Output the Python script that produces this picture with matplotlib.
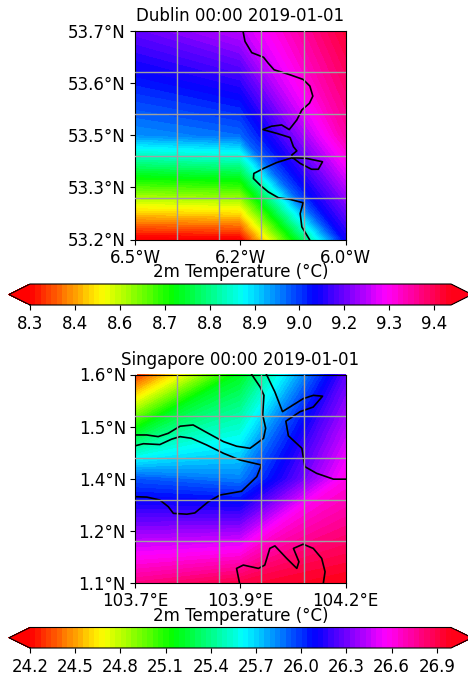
#!/usr/bin/env python3
"""2m temperature maps for Dublin and Singapore, with coastlines drawn from traced lists."""

import numpy as np
import matplotlib
matplotlib.use("Agg")
import matplotlib.pyplot as plt

W, H = 468, 679

# ── Dublin ──────────────────────────────────────────────
dub_lon = [-6.5, -6.25, -6.0]
dub_lat = [53.2, 53.45, 53.7]
dub_temp = [[8.28, 8.29, 9.10],
            [8.98, 9.01, 9.36],
            [9.17, 9.24, 9.45]]
dub_xticks = [-6.5, -6.25, -6.0]
dub_xlabels = ["6.5°W", "6.2°W", "6.0°W"]
dub_yticks = [53.2, 53.325, 53.45, 53.575, 53.7]
dub_ylabels = ["53.2°N", "53.3°N", "53.5°N", "53.6°N", "53.7°N"]
dub_xgrid = [-6.4, -6.3, -6.2, -6.1]
dub_ygrid = [53.3, 53.4, 53.5, 53.6]
dub_cticks = [8.3, 8.425, 8.55, 8.675, 8.8, 8.925, 9.05, 9.175, 9.3, 9.425]
dub_clabels = ["8.3", "8.4", "8.6", "8.7", "8.8", "8.9", "9.0", "9.2", "9.3", "9.4"]
dub_crange = (8.3, 9.472)

dub_coast_lon = [-6.244, -6.239, -6.223, -6.195, -6.184, -6.170, -6.132, -6.101, -6.085,
                 -6.078, -6.086, -6.104, -6.116, -6.134, -6.152, -6.176, -6.197, -6.164,
                 -6.132, -6.124, -6.116, -6.128, -6.126, -6.093, -6.055, -6.065, -6.081,
                 -6.108, -6.126, -6.164, -6.195, -6.218, -6.219, -6.203, -6.184, -6.160,
                 -6.132, -6.101, -6.108, -6.104, -6.086]
dub_coast_lat = [53.700, 53.674, 53.647, 53.636, 53.622, 53.606, 53.594, 53.583, 53.567,
                 53.543, 53.526, 53.510, 53.486, 53.463, 53.474, 53.471, 53.463, 53.454,
                 53.444, 53.422, 53.412, 53.402, 53.396, 53.394, 53.386, 53.368, 53.368,
                 53.382, 53.396, 53.384, 53.370, 53.358, 53.346, 53.330, 53.314, 53.300,
                 53.296, 53.288, 53.262, 53.230, 53.200]

# ── Singapore ───────────────────────────────────────────
sin_lon = [103.7, 103.95, 104.2]
sin_lat = [1.1, 1.35, 1.6]
sin_temp = [[26.79, 26.91, 27.00],
            [25.93, 25.85, 26.60],
            [24.28, 25.20, 26.25]]
sin_xticks = [103.7, 103.95, 104.2]
sin_xlabels = ["103.7°E", "103.9°E", "104.2°E"]
sin_yticks = [1.1, 1.225, 1.35, 1.475, 1.6]
sin_ylabels = ["1.1°N", "1.2°N", "1.4°N", "1.5°N", "1.6°N"]
sin_xgrid = [103.8, 103.9, 104.0, 104.1]
sin_ygrid = [1.2, 1.3, 1.4, 1.5]
sin_cticks = [24.2, 24.5, 24.8, 25.1, 25.4, 25.7, 26.0, 26.3, 26.6, 26.9]
sin_clabels = ["24.2", "24.5", "24.8", "25.1", "25.4", "25.7", "26.0", "26.3", "26.6", "26.9"]
sin_crange = (24.2, 26.995)

# johor coast, main island, east side, riau islands
sin_coasts = [
    ([103.700, 103.728, 103.755, 103.779, 103.807, 103.838, 103.870, 103.910, 103.941,
      103.973, 104.005, 104.010, 104.003, 104.006, 103.997, 103.977],
     [1.455, 1.455, 1.451, 1.459, 1.476, 1.479, 1.461, 1.439, 1.428,
      1.423, 1.447, 1.471, 1.503, 1.550, 1.570, 1.600]),
    ([103.700, 103.720, 103.759, 103.787, 103.807, 103.834, 103.870, 103.910, 103.949,
      104.000, 103.989, 103.953, 103.902, 103.874, 103.842, 103.823, 103.791, 103.779,
      103.759, 103.728, 103.700],
     [1.429, 1.434, 1.432, 1.445, 1.451, 1.447, 1.431, 1.411, 1.395,
      1.383, 1.355, 1.320, 1.311, 1.295, 1.268, 1.265, 1.267, 1.283,
      1.299, 1.306, 1.307]),
    ([104.012, 104.032, 104.050, 104.099, 104.123, 104.145, 104.123, 104.092, 104.058,
      104.064, 104.096, 104.103, 104.131, 104.171, 104.200],
     [1.600, 1.558, 1.511, 1.542, 1.550, 1.548, 1.522, 1.511, 1.488,
      1.453, 1.423, 1.379, 1.363, 1.349, 1.349]),
    ([103.948, 103.941, 103.957, 103.993, 104.008, 104.020, 104.032, 104.060, 104.084,
      104.089, 104.076, 104.099, 104.123, 104.143, 104.151, 104.147],
     [1.100, 1.135, 1.143, 1.135, 1.143, 1.183, 1.189, 1.159, 1.135,
      1.151, 1.183, 1.193, 1.183, 1.159, 1.127, 1.100]),
]

N_LEVELS = 80
FONT = 12


def px_axes(left, top, right, bottom):
    # axes position given in image pixels
    return plt.gcf().add_axes([left / W, 1 - bottom / H, (right - left) / W, (bottom - top) / H])


def draw_panel(box, cbox, title, lon, lat, temp, crange, coasts,
               xticks, xlabels, yticks, ylabels, xgrid, ygrid, cticks, clabels):
    ax = px_axes(*box)
    levels = np.linspace(crange[0], crange[1], N_LEVELS)
    cs = ax.contourf(lon, lat, temp, levels=levels, cmap="hsv", extend="both")
    for cx, cy in coasts:
        ax.plot(cx, cy, color="black", lw=1.2, solid_joinstyle="round")
    ax.set_xlim(lon[0], lon[-1])
    ax.set_ylim(lat[0], lat[-1])
    ax.set_xticks(xticks, xlabels)
    ax.set_yticks(yticks, ylabels)
    ax.set_xticks(xgrid, minor=True)
    ax.set_yticks(ygrid, minor=True)
    ax.tick_params(which="minor", length=0)
    ax.tick_params(which="major", labelsize=FONT, pad=3)
    ax.grid(which="minor", color="#a0a0a0", lw=1.0)
    ax.set_axisbelow(False)
    ax.set_title(title, fontsize=FONT, pad=6.5)

    # the outer box of the colorbar holds the two extension tips as well
    cax = px_axes(*cbox)
    cb = plt.gcf().colorbar(cs, cax=cax, orientation="horizontal", extend="both")
    cb.set_ticks(cticks, labels=clabels)
    cb.minorticks_off()
    cax.tick_params(labelsize=FONT, pad=4)
    cax.xaxis.set_label_position("top")
    cb.set_label("2m Temperature (°C)", fontsize=FONT, labelpad=5)


fig = plt.figure(figsize=(W / 100, H / 100), dpi=100)

draw_panel((135, 30.5, 345.7, 239.5), (8.95, 284, 472.05, 305), "Dublin 00:00 2019-01-01",
           dub_lon, dub_lat, dub_temp, dub_crange, [(dub_coast_lon, dub_coast_lat)],
           dub_xticks, dub_xlabels, dub_yticks, dub_ylabels, dub_xgrid, dub_ygrid,
           dub_cticks, dub_clabels)

draw_panel((135, 374.5, 345.7, 583), (8.95, 627.5, 472.05, 648), "Singapore 00:00 2019-01-01",
           sin_lon, sin_lat, sin_temp, sin_crange, sin_coasts,
           sin_xticks, sin_xlabels, sin_yticks, sin_ylabels, sin_xgrid, sin_ygrid,
           sin_cticks, sin_clabels)

fig.savefig("out.png", dpi=100)
plt.close(fig)
